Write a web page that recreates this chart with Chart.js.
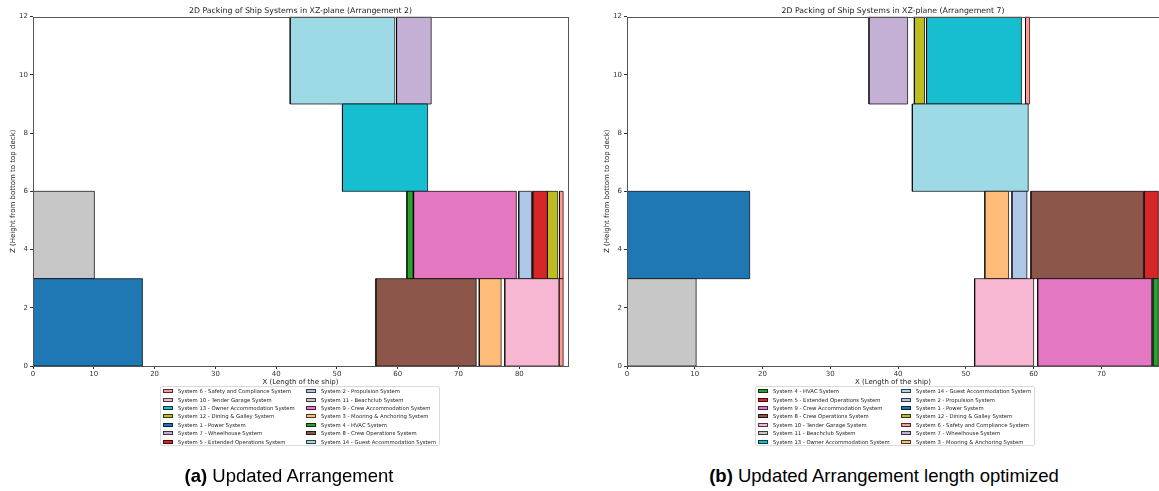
<!DOCTYPE html>
<html>
<head>
<meta charset="utf-8">
<script src="https://cdn.jsdelivr.net/npm/chart.js@4/dist/chart.umd.min.js"></script>
<style>
html, body { margin: 0; padding: 0; background: #fff; overflow: hidden; width: 1159px; height: 491px; }
canvas { position: absolute; top: 0; }
.legend {
  position: absolute; top: 386px; width: 280px; height: 60px;
  border: 1px solid #d9d9d9; border-radius: 2px; box-sizing: border-box;
  display: grid; grid-template-rows: repeat(7, 8.4px); grid-auto-flow: column;
  grid-template-columns: 143px 1fr; padding: 0 0 0 2px;
  font: 5.3px 'DejaVu Sans', sans-serif; color: #222;
}
.item { display: flex; align-items: center; white-space: nowrap; }
.sw { width: 10px; height: 4px; border: 1px solid rgba(0,0,0,0.7); box-sizing: border-box; margin-right: 5px; flex: none; }
.cap { position: absolute; top: 467px; font: 18.5px/18.5px 'Liberation Sans', Arial, sans-serif; color: #000; white-space: nowrap; transform: translateX(-50%); }
</style>
</head>
<body>
<canvas id="chartA" width="601" height="388" style="left:0px"></canvas>
<canvas id="chartB" width="598" height="388" style="left:594px"></canvas>
<div class="legend" id="legendA" style="left:160px"></div>
<div class="legend" id="legendB" style="left:755px"></div>
<div class="cap" style="left:289px"><b>(a)</b> Updated Arrangement</div>
<div class="cap" style="left:884px"><b>(b)</b> Updated Arrangement length optimized</div>
<script>
// system names, by id
const systemNames = {
  1: 'Power System',
  2: 'Propulsion System',
  3: 'Mooring & Anchoring System',
  4: 'HVAC System',
  5: 'Extended Operations System',
  6: 'Safety and Compliance System',
  7: 'Wheelhouse System',
  8: 'Crew Operations System',
  9: 'Crew Accommodation System',
  10: 'Tender Garage System',
  11: 'Beachclub System',
  12: 'Dining & Galley System',
  13: 'Owner Accommodation System',
  14: 'Guest Accommodation System'
};

// Arrangement 2 boxes (x = length, z = height)
const arr2System = [1, 11, 8, 3, 10, 6, 4, 9, 2, 5, 12, 6, 13, 14, 7];
const arr2X0 = [0, 0, 56.4, 73.4, 77.6, 86.5, 61.5, 62.6, 79.9, 82.2, 84.6, 86.6, 50.9, 42.3, 59.8];
const arr2X1 = [18.0, 10.1, 72.9, 77.0, 86.5, 87.2, 62.5, 79.5, 82.0, 84.6, 86.3, 87.2, 64.9, 59.5, 65.5];
const arr2Z0 = [0, 3, 0, 0, 0, 0, 3, 3, 3, 3, 3, 3, 6, 9, 9];
const arr2Z1 = [3, 6, 3, 3, 3, 3, 6, 6, 6, 6, 6, 6, 9, 12, 12];
const arr2Legend = [6, 10, 13, 12, 1, 7, 5, 2, 11, 9, 3, 4, 8, 14];

// Arrangement 7 boxes
const arr7System = [11, 1, 10, 9, 4, 3, 2, 8, 5, 14, 7, 12, 13, 6];
const arr7X0 = [0, 0, 51.3, 60.6, 77.6, 52.8, 56.8, 59.6, 76.3, 42.1, 35.7, 42.4, 44.2, 58.8];
const arr7X1 = [10.2, 18.1, 60.0, 77.4, 78.4, 56.3, 59.0, 76.2, 78.4, 59.2, 41.4, 43.9, 58.2, 59.4];
const arr7Z0 = [0, 3, 0, 0, 0, 3, 3, 3, 3, 6, 9, 9, 9, 9];
const arr7Z1 = [3, 6, 3, 3, 3, 6, 6, 6, 6, 9, 12, 12, 12, 12];
const arr7Legend = [4, 5, 9, 8, 10, 11, 13, 14, 2, 1, 12, 6, 7, 3];

const xTicks = [0, 10, 20, 30, 40, 50, 60, 70, 80];
const yTicks = [0, 2, 4, 6, 8, 10, 12];

// tab20 style colours
const colors = {
  1: '#1f77b4', 2: '#aec7e8', 3: '#ffbb78', 4: '#2ca02c', 5: '#d62728',
  6: '#ff9896', 7: '#c5b0d5', 8: '#8c564b', 9: '#e377c2', 10: '#f7b6d2',
  11: '#c7c7c7', 12: '#bcbd22', 13: '#17becf', 14: '#9edae5'
};
const edge = 'rgba(0,0,0,0.7)';

Chart.defaults.font.family = "'DejaVu Sans', sans-serif";

// box around the plot area, like matplotlib spines
const frame = {
  id: 'frame',
  afterDraw(chart) {
    const a = chart.chartArea, c = chart.ctx;
    c.save();
    c.strokeStyle = '#555';
    c.lineWidth = 1;
    c.strokeRect(Math.round(a.left) + 0.5, Math.round(a.top) + 0.5, Math.round(a.right - a.left), Math.round(a.bottom - a.top));
    c.restore();
  }
};

function makeChart(id, title, sys, x0, x1, z0, z1, xMax) {
  const datasets = sys.map((s, i) => ({
    label: 'System ' + s + ' - ' + systemNames[s],
    data: [
      {x: x0[i], y: z0[i]}, {x: x1[i], y: z0[i]},
      {x: x1[i], y: z1[i]}, {x: x0[i], y: z1[i]}, {x: x0[i], y: z0[i]}
    ],
    showLine: true,
    fill: 'shape',
    backgroundColor: colors[s],
    borderColor: edge,
    borderWidth: 1,
    pointRadius: 0,
    tension: 0
  }));

  return new Chart(document.getElementById(id), {
    type: 'scatter',
    data: { datasets },
    options: {
      responsive: false,
      animation: false,
      events: [],
      layout: { padding: 0 },
      plugins: {
        legend: { display: false },
        tooltip: { enabled: false },
        title: {
          display: true, text: title, color: '#222',
          font: { size: 7.8, weight: 'normal' },
          padding: { top: 6, bottom: 1.3 }
        }
      },
      scales: {
        x: {
          type: 'linear', min: 0, max: xMax,
          afterBuildTicks: s => { s.ticks = xTicks.map(v => ({ value: v })); },
          afterFit: s => { s.height = 22; },
          grid: { drawOnChartArea: false, tickLength: 3, color: '#333' },
          border: { display: false },
          ticks: { font: { size: 7 }, color: '#333', padding: 1, maxRotation: 0, autoSkip: false },
          title: { display: true, text: 'X (Length of the ship)', color: '#222', font: { size: 7 }, padding: { top: 0, bottom: 1.5 } }
        },
        y: {
          min: 0, max: 12,
          afterBuildTicks: s => { s.ticks = yTicks.map(v => ({ value: v })); },
          afterFit: s => { s.width = 33; },
          grid: { drawOnChartArea: false, tickLength: 3, color: '#333' },
          border: { display: false },
          ticks: { font: { size: 7 }, color: '#333', padding: 2 },
          title: { display: true, text: 'Z (Height from bottom to top deck)', color: '#222', font: { size: 7 }, padding: { top: 9, bottom: 0 } }
        },
        // empty right-hand spacer so the title centres over the plot
        yRight: {
          position: 'right', min: 0, max: 12,
          afterFit: s => { s.width = 33; },
          grid: { display: false }, border: { display: false },
          ticks: { display: false }
        }
      }
    },
    plugins: [frame]
  });
}

function makeLegend(id, order) {
  const box = document.getElementById(id);
  order.forEach(s => {
    const item = document.createElement('div');
    item.className = 'item';
    const sw = document.createElement('span');
    sw.className = 'sw';
    sw.style.background = colors[s];
    const t = document.createElement('span');
    t.textContent = 'System ' + s + ' - ' + systemNames[s];
    item.appendChild(sw);
    item.appendChild(t);
    box.appendChild(item);
  });
}

makeChart('chartA', '2D Packing of Ship Systems in XZ-plane (Arrangement 2)', arr2System, arr2X0, arr2X1, arr2Z0, arr2Z1, 88);
makeChart('chartB', '2D Packing of Ship Systems in XZ-plane (Arrangement 7)', arr7System, arr7X0, arr7X1, arr7Z0, arr7Z1, 78.5);
makeLegend('legendA', arr2Legend);
makeLegend('legendB', arr7Legend);
</script>
</body>
</html>
